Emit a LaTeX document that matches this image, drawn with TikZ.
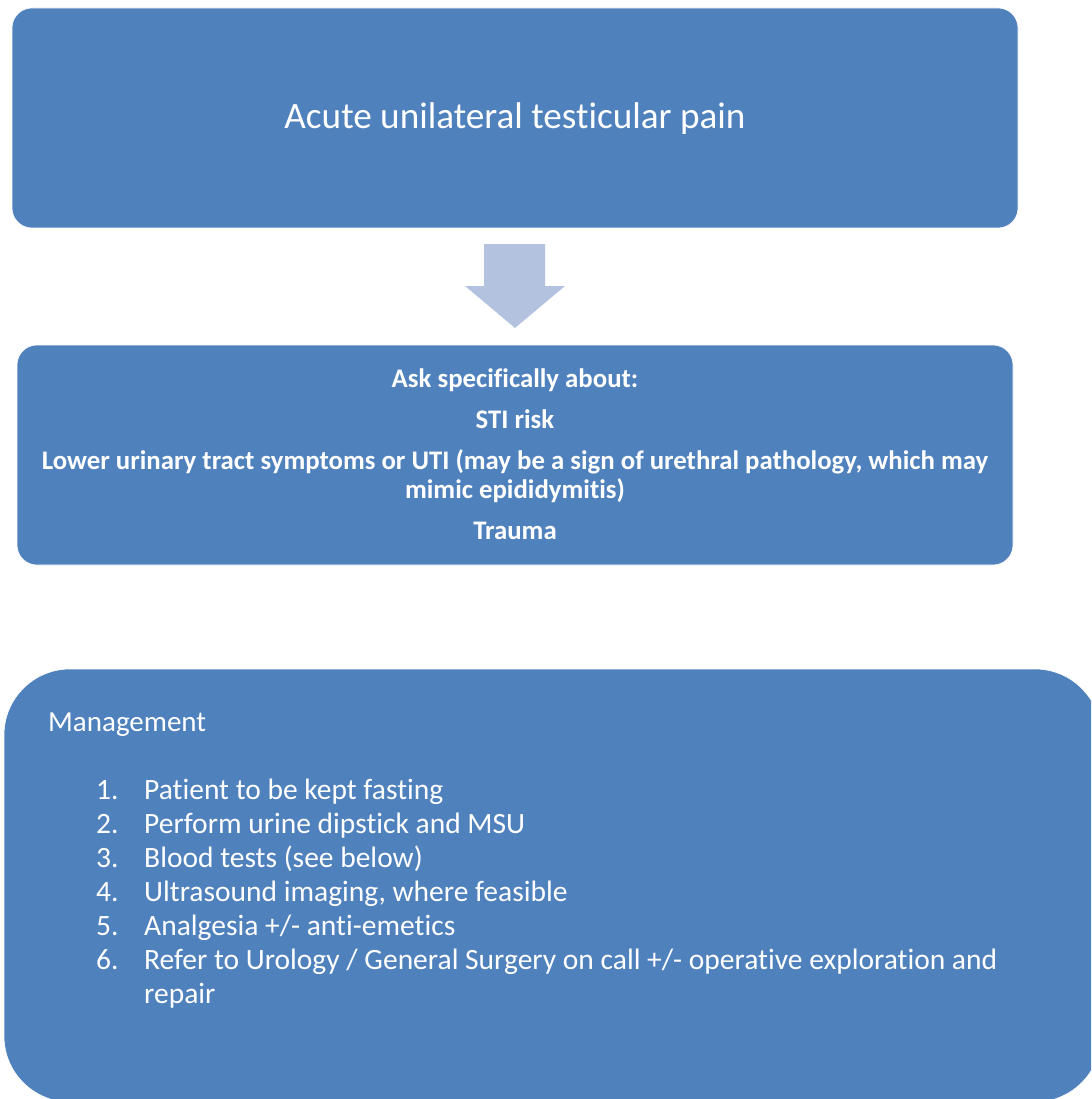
\documentclass[tikz,border=0pt]{standalone}
\usepackage{fontspec}
\setmainfont{Carlito}[Ligatures=NoCommon]
\usepackage{xcolor}
\definecolor{boxblue}{HTML}{4F81BD}
\definecolor{arrowblue}{HTML}{B3C3DF}

\tikzset{
  box/.style={fill=boxblue, draw=white, line width=0.6pt},
  boxtext/.style={text=white, anchor=base, inner sep=0pt},
  asktext/.style={boxtext, font=\fontsize{26.8}{32}\selectfont\bfseries},
  listtext/.style={boxtext, anchor=base west, font=\fontsize{29.5}{35}\selectfont}
}

\begin{document}
\begin{tikzpicture}[x=1pt,y=-1pt]
        \useasboundingbox (0,0) rectangle (1091,1099);
        \clip (0,0) rectangle (1091,1099);
        % first box
        \draw[box, rounded corners=20pt] (12,8) rectangle (1018,228);
        \node[boxtext, font=\fontsize{37.2}{44}\selectfont] (pain) at (515,129) {Acute unilateral testicular pain};
        % block arrow
        \fill[arrowblue] (484,244) -- (545,244) -- (545,286) -- (565,286) -- (515,328)
                         -- (465,286) -- (484,286) -- cycle;
        % second box
        \draw[box, rounded corners=20pt] (17,345) rectangle (1013,565);
        \node[asktext] (ask) at (515,387) {Ask specifically about:};
        \node[asktext] (sti) at (515,428) {STI risk};
        \node[asktext] (luts) at (515,469) {Lower urinary tract symptoms or UTI (may be a sign of urethral pathology, which may};
        \node[asktext] (mimic) at (515,498) {mimic epididymitis)};
        \node[asktext] (trauma) at (515,539) {Trauma};
        % management box
        \draw[box, rounded corners=66pt] (4,669) rectangle (1101,1102);
        \node[listtext, font=\fontsize{29}{35}\selectfont] (mgmt) at (48,731) {Management};
        \foreach \t [count=\i] in {Patient to be kept fasting,
                                   Perform urine dipstick and MSU,
                                   Blood tests (see below),
                                   {Ultrasound imaging, where feasible},
                                   Analgesia +/- anti-emetics,
                                   Refer to Urology / General Surgery on call +/- operative exploration and}{
          \node[listtext] (num\i) at (96,765+34*\i) {\i.};
          \node[listtext] (item\i) at (144,765+34*\i) {\t};
        }
        \node[listtext] (repair) at (144,1003) {repair};
      \end{tikzpicture}
\end{document}
